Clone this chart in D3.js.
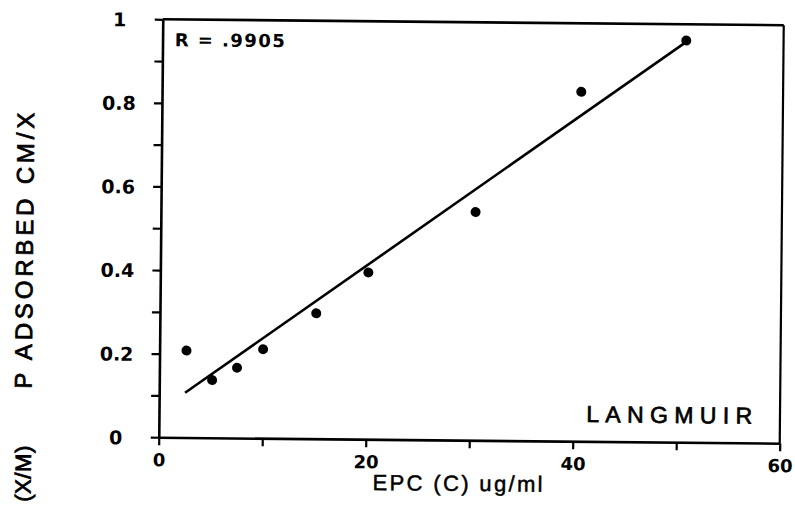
<!DOCTYPE html>
<html><head><meta charset="utf-8">
<script src="https://cdn.jsdelivr.net/npm/d3@7"></script>
<style>body{margin:0;background:#fff;overflow:hidden}</style></head>
<body>
<script>
// Data
const epc = [2.6, 5.1, 7.5, 10.0, 15.1, 20.1, 30.4, 40.5, 50.6];
const pAdsorbed = [0.208, 0.138, 0.168, 0.213, 0.300, 0.399, 0.546, 0.836, 0.961];
const fitX = [2.5, 50.6];
const fitY = [0.107, 0.958];
const xMajorTicks = [0, 20, 40, 60];
const xMinorTicks = [10, 30, 50];
const yMajorTicks = [0, 0.2, 0.4, 0.6, 0.8, 1];
const yMinorTicks = [0.1, 0.3, 0.5, 0.7, 0.9];
const yTickLabels = ["0", "0.2", "0.4", "0.6", "0.8", "1"];
const xTickLabels = ["0", "20", "40", "60"];
const xTitle = "EPC (C) ug/ml";
const yTitle = "P ADSORBED CM/X";
const yTitle2 = "(X/M)";
const rLabel = "R = .9905";
const modelLabel = "LANGMUIR";

const W = 795, H = 511;
const L = 160.75, R = 781.75, T = 22.25, B = 440.25;

const svg = d3.select("body").append("svg").attr("width", W).attr("height", H)
  .style("font-family", "'Liberation Sans', Arial, sans-serif");
svg.append("rect").attr("width", W).attr("height", H).attr("fill", "#fff");

const g = svg.append("g").attr("transform", "rotate(0.55,471.25,231.25)");

const x = d3.scaleLinear().domain([0, 60]).range([L, R]);
const y = d3.scaleLinear().domain([0, 1]).range([B, T]);

const tickFont = "'DejaVu Sans', sans-serif";

// Y axis
const yAx = g.append("g").attr("transform", `translate(${L},0)`)
  .call(d3.axisLeft(y).tickValues(yMajorTicks.concat(yMinorTicks)).tickSize(8).tickSizeOuter(0)
    .tickFormat(d => { const i = yMajorTicks.indexOf(d); return i >= 0 ? yTickLabels[i] : ""; }));
yAx.select(".domain").attr("stroke", "#000").attr("stroke-width", 2.6);
yAx.selectAll(".tick line").attr("stroke", "#000").attr("stroke-width", 2.2);
yAx.selectAll(".tick text").attr("x", -43).attr("dy", "0.36em").attr("text-anchor", "middle")
  .attr("font-family", tickFont).attr("font-weight", "bold").attr("font-size", 19).attr("fill", "#000");

// X axis
const xAx = g.append("g").attr("transform", `translate(0,${B})`)
  .call(d3.axisBottom(x).tickValues(xMajorTicks.concat(xMinorTicks)).tickSize(8).tickSizeOuter(0)
    .tickFormat(d => { const i = xMajorTicks.indexOf(d); return i >= 0 ? xTickLabels[i] : ""; }));
xAx.select(".domain").attr("stroke", "#000").attr("stroke-width", 2.6);
xAx.selectAll(".tick line").attr("stroke", "#000").attr("stroke-width", 2.2);
xAx.selectAll(".tick text").attr("y", 29).attr("dy", 0)
  .attr("font-family", tickFont).attr("font-weight", "bold").attr("font-size", 18).attr("fill", "#000");

// Top and right frame
g.append("line").attr("x1", x(0)).attr("x2", x(60)).attr("y1", y(1)).attr("y2", y(1))
  .attr("stroke", "#000").attr("stroke-width", 2.6);
g.append("line").attr("x1", x(60)).attr("x2", x(60)).attr("y1", y(1)).attr("y2", y(0))
  .attr("stroke", "#000").attr("stroke-width", 2.2);

// Fit line
g.append("line")
  .attr("x1", x(fitX[0])).attr("y1", y(fitY[0]))
  .attr("x2", x(fitX[1])).attr("y2", y(fitY[1]))
  .attr("stroke", "#000").attr("stroke-width", 2.6);

// Points
g.selectAll("circle.pt").data(epc.map((d, i) => [d, pAdsorbed[i]])).enter()
  .append("circle").attr("class", "pt")
  .attr("cx", d => x(d[0])).attr("cy", d => y(d[1])).attr("r", 5).attr("fill", "#000");

// Annotations
g.append("text").attr("x", 173).attr("y", 49).text(rLabel)
  .attr("font-family", tickFont).attr("font-weight", "bold").attr("font-size", 18)
  .attr("textLength", 110).attr("lengthAdjust", "spacing");
g.append("text").attr("x", 588).attr("y", 421).text(modelLabel)
  .attr("font-size", 23).attr("stroke", "#000").attr("stroke-width", 0.7)
  .attr("textLength", 166).attr("lengthAdjust", "spacing");

// Axis titles
g.append("text").attr("x", 375).attr("y", 491).text(xTitle)
  .attr("font-size", 22).attr("stroke", "#000").attr("stroke-width", 0.5)
  .attr("textLength", 170).attr("lengthAdjust", "spacing");
g.append("text").attr("transform", "translate(33,255) rotate(-90)").attr("text-anchor", "middle")
  .text(yTitle).attr("font-size", 24).attr("stroke", "#000").attr("stroke-width", 0.8)
  .attr("textLength", 276).attr("lengthAdjust", "spacing");
g.append("text").attr("transform", "translate(33,506) rotate(-90)").attr("text-anchor", "start")
  .text(yTitle2).attr("font-size", 22).attr("stroke", "#000").attr("stroke-width", 0.8)
  .attr("textLength", 56).attr("lengthAdjust", "spacing");
</script>
</body></html>
